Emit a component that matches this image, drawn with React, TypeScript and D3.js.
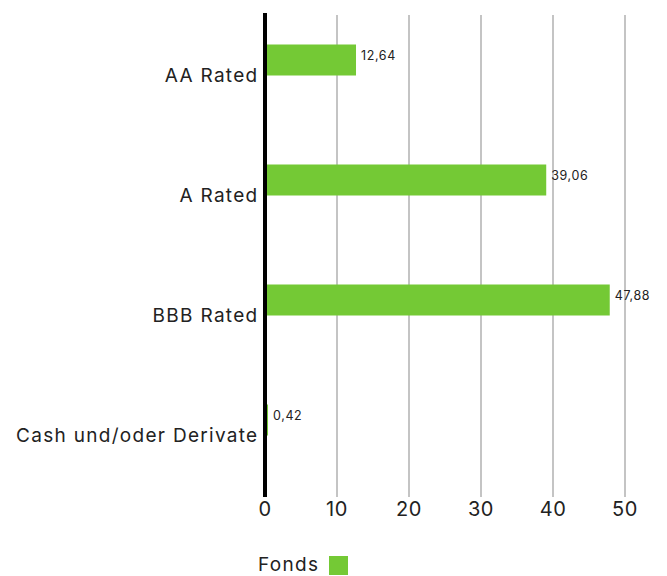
import React from "react";
import * as d3 from "d3";

const categories = ["AA Rated", "A Rated", "BBB Rated", "Cash und/oder Derivate"];
const values = [12.64, 39.06, 47.88, 0.42];
const valueLabels = ["12,64", "39,06", "47,88", "0,42"];
const xTicks = [0, 10, 20, 30, 40, 50];
const seriesName = "Fonds";

const W = 667;
const H = 576;
const FONT = "Inter, 'Open Sans', sans-serif";

export default function App() {
  const x = d3.scaleLinear().domain([0, 50]).range([265, 625]);
  const y = d3.scaleBand().domain(categories).range([0, 480]).paddingInner(0).paddingOuter(0);
  const barH = 31;
  const green = "#74c935";

  return (
    <svg width={W} height={H} style={{ position: "absolute", left: 0, top: 0, background: "#fff" }}>
      {xTicks.slice(1).map((t) => (
        <line key={t} x1={x(t)} x2={x(t)} y1={15} y2={497} stroke="#c4c4c4" strokeWidth={2} />
      ))}
      {categories.map((c, i) => {
        const cy = (y(c) as number) + y.bandwidth() / 2;
        return (
          <g key={c}>
            <rect x={x(0)} y={cy - barH / 2} width={x(values[i]) - x(0)} height={barH} fill={green} />
            <text x={x(values[i]) + 5} y={cy - 3} fontSize={12.5} letterSpacing={0.6} fontFamily={FONT} fill="#222" dominantBaseline="middle">
              {valueLabels[i]}
            </text>
            <text x={258.5} y={cy + 17} fontSize={19} letterSpacing={1.3} fontFamily={FONT} fill="#222" textAnchor="end" dominantBaseline="middle">
              {c}
            </text>
          </g>
        );
      })}
      <line x1={x(0)} x2={x(0)} y1={13} y2={497} stroke="#000" strokeWidth={4} />
      {xTicks.map((t) => (
        <text key={t} x={x(t)} y={511} fontSize={20} letterSpacing={0.5} fontFamily={FONT} fill="#222" textAnchor="middle" dominantBaseline="middle">
          {t}
        </text>
      ))}
      <text x={258} y={566} fontSize={19} letterSpacing={1.3} fontFamily={FONT} fill="#222" dominantBaseline="middle">
        {seriesName}
      </text>
      <rect x={329} y={556} width={19} height={19} fill={green} />
    </svg>
  );
}
